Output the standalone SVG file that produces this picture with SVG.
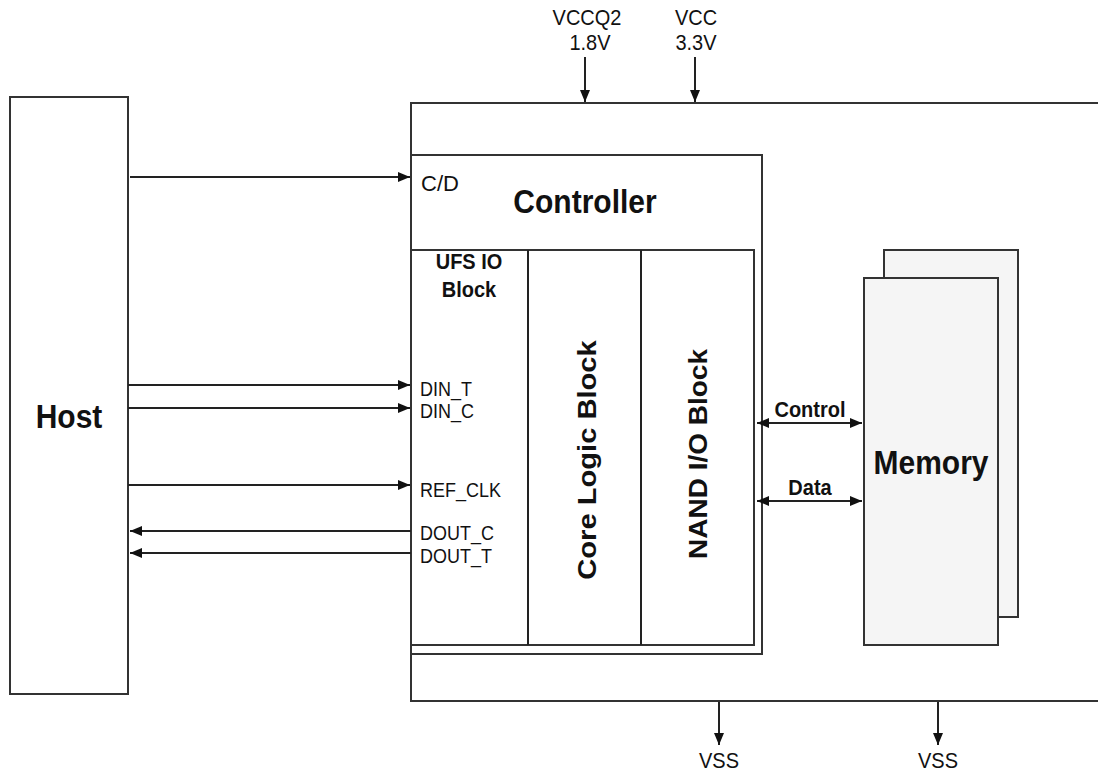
<svg xmlns="http://www.w3.org/2000/svg" width="1098" height="772" viewBox="0 0 1098 772">
<style>
.box{fill:#fff;stroke:#333;stroke-width:2}
.mem{fill:#f5f5f5;stroke:#333;stroke-width:2}
.ln{stroke:#222;stroke-width:2;fill:none}
.t{font-family:"Liberation Sans",Arial,sans-serif;fill:#111}
.b{font-weight:bold}
</style>
<defs>
<marker id="ah" viewBox="0 0 12 10" refX="12" refY="5" markerWidth="12" markerHeight="10" markerUnits="userSpaceOnUse" orient="auto-start-reverse"><path d="M0,0 L12,5 L0,10 Z" fill="#111"/></marker>
</defs>
<rect width="1098" height="772" fill="#fff"/>
<g id="device"><rect class="box" x="411" y="103" width="700" height="598"/></g>
<g id="host"><rect class="box" x="10" y="97" width="118" height="597"/><text class="t b" font-size="30" text-anchor="middle" transform="translate(69,428) scale(1,1.12)">Host</text></g>
<g id="controller">
<rect class="box" x="411" y="155" width="351" height="499"/>
<line class="ln" x1="411" y1="250" x2="754" y2="250"/>
<rect class="box" x="411" y="250" width="343" height="395"/>
<line class="ln" x1="528" y1="250" x2="528" y2="645"/>
<line class="ln" x1="641" y1="250" x2="641" y2="645"/>
<text class="t b" font-size="30" text-anchor="middle" transform="translate(585,213) scale(1,1.12)">Controller</text>
<text class="t" font-size="22" transform="translate(421,191)">C/D</text>
</g>
<g id="ufsio">
<text class="t b" font-size="20" text-anchor="middle" transform="translate(469,269) scale(1,1.12)">UFS IO</text>
<text class="t b" font-size="20" text-anchor="middle" transform="translate(469,297) scale(1,1.12)">Block</text>
<g class="t" font-size="18">
<text transform="translate(420,396) scale(1,1.15)">DIN_T</text>
<text transform="translate(420,418) scale(1,1.15)">DIN_C</text>
<text transform="translate(420,497) scale(1,1.15)">REF_CLK</text>
<text transform="translate(420,540) scale(1,1.15)">DOUT_C</text>
<text transform="translate(420,563) scale(1,1.15)">DOUT_T</text>
</g>
</g>
<g id="corelogic"><text class="t b" font-size="26" text-anchor="middle" transform="translate(596,460) rotate(-90) scale(1.12,1)">Core Logic Block</text></g>
<g id="nandio"><text class="t b" font-size="25" text-anchor="middle" transform="translate(707,454) rotate(-90) scale(1.12,1)">NAND I/O Block</text></g>
<g id="memory">
<rect class="mem" x="884" y="250" width="134" height="367"/>
<rect class="mem" x="864" y="278" width="134" height="367"/>
<text class="t b" font-size="30" text-anchor="middle" transform="translate(931,474) scale(1,1.12)">Memory</text>
</g>
<g id="connectors">
<line class="ln" x1="130" y1="177" x2="410" y2="177" marker-end="url(#ah)" stroke-width="2.5"/>
<line class="ln" x1="128" y1="385" x2="410" y2="385" marker-end="url(#ah)"/>
<line class="ln" x1="128" y1="408" x2="410" y2="408" marker-end="url(#ah)"/>
<line class="ln" x1="128" y1="485" x2="410" y2="485" marker-end="url(#ah)"/>
<line class="ln" x1="411" y1="531" x2="130" y2="531" marker-end="url(#ah)"/>
<line class="ln" x1="411" y1="553" x2="130" y2="553" marker-end="url(#ah)"/>
<line class="ln" x1="757" y1="423" x2="862" y2="423" marker-start="url(#ah)" marker-end="url(#ah)"/>
<line class="ln" x1="757" y1="501" x2="862" y2="501" marker-start="url(#ah)" marker-end="url(#ah)"/>
<text class="t b" font-size="20" text-anchor="middle" transform="translate(810,417) scale(1,1.1)">Control</text>
<text class="t b" font-size="20" text-anchor="middle" transform="translate(810,495) scale(1,1.1)">Data</text>
<line class="ln" x1="585" y1="57" x2="585" y2="102" marker-end="url(#ah)"/>
<line class="ln" x1="695" y1="57" x2="695" y2="102" marker-end="url(#ah)"/>
<line class="ln" x1="719" y1="702" x2="719" y2="745" marker-end="url(#ah)"/>
<line class="ln" x1="938" y1="702" x2="938" y2="745" marker-end="url(#ah)"/>
<g class="t" font-size="20" text-anchor="middle">
<text transform="translate(587,25) scale(1,1.1)">VCCQ2</text><text transform="translate(590,50) scale(1,1.1)">1.8V</text>
<text transform="translate(696,25) scale(1,1.1)">VCC</text><text transform="translate(696,50) scale(1,1.1)">3.3V</text>
<text transform="translate(719,768) scale(1,1.1)">VSS</text><text transform="translate(938,768) scale(1,1.1)">VSS</text>
</g>
</g>
</svg>
